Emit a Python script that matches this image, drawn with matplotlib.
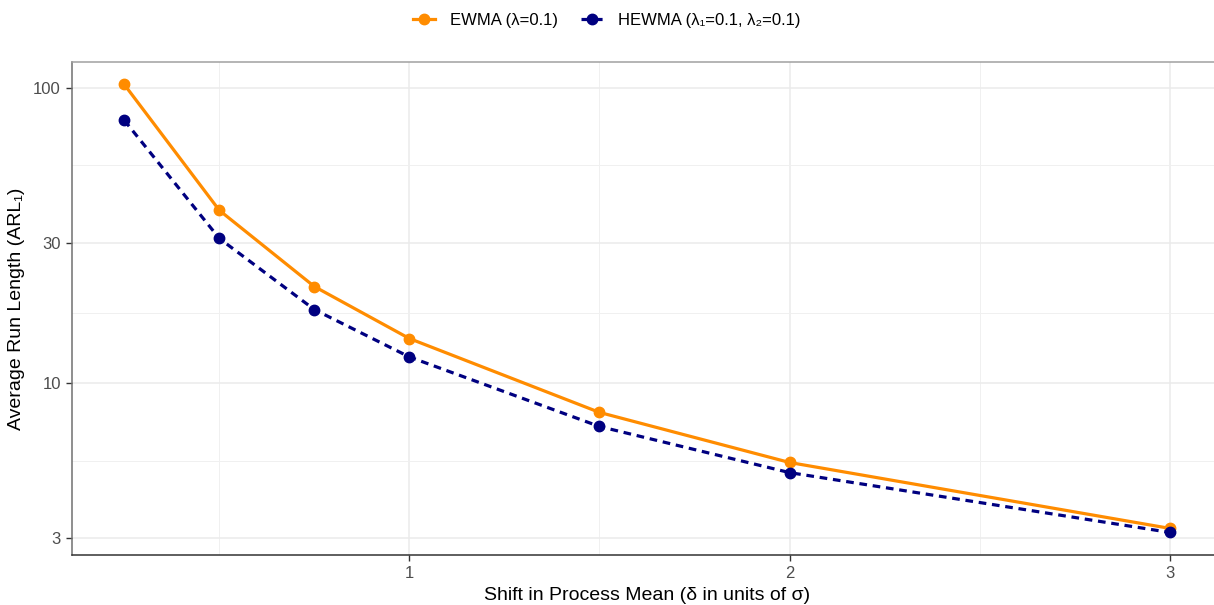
import matplotlib
matplotlib.use("Agg")
import matplotlib.pyplot as plt
from matplotlib.ticker import FixedLocator, NullFormatter

plt.rcParams['font.family'] = ['Liberation Sans', 'DejaVu Sans']

# ---- data ----
shift = [0.25, 0.5, 0.75, 1.0, 1.5, 2.0, 3.0]
arl_ewma = [103, 38.6, 21.3, 14.2, 7.98, 5.40, 3.23]
arl_hewma = [77.9, 31.0, 17.8, 12.3, 7.15, 4.99, 3.13]

y_ticks = [3, 10, 30, 100]
y_minor = [5.477, 17.32, 54.77]
x_ticks = [1, 2, 3]
x_minor = [0.5, 1.5, 2.5]

W, H = 1214, 605
fig = plt.figure(figsize=(W / 100, H / 100), dpi=100)
fig.patch.set_facecolor("white")
ax = fig.add_axes([72 / W, 50 / H, (1222 - 72) / W, 493 / H])

ax.plot(shift, arl_ewma, color="#FF8C00", lw=2.3, marker="o", ms=7.5,
        label="EWMA (λ=0.1)", zorder=4)
ax.plot(shift, arl_hewma, color="#000080", lw=2.3, ls=(0, (2.4, 1.8)), marker="o", ms=7.5,
        label="HEWMA (λ₁=0.1, λ₂=0.1)", zorder=5)

ax.set_yscale("log")
ax.set_xlim(0.1125, 3.1375)
ax.set_ylim(10 ** 0.419, 10 ** 2.089)

ax.yaxis.set_major_locator(FixedLocator(y_ticks))
ax.yaxis.set_minor_locator(FixedLocator(y_minor))
ax.set_yticklabels([str(v) for v in y_ticks])
ax.yaxis.set_minor_formatter(NullFormatter())
ax.xaxis.set_major_locator(FixedLocator(x_ticks))
ax.xaxis.set_minor_locator(FixedLocator(x_minor))
ax.set_xticklabels([str(v) for v in x_ticks])

ax.grid(which="major", color="#EBEBEB", lw=1.1, zorder=0)
ax.grid(which="minor", color="#F0F0F0", lw=0.7, zorder=0)
ax.set_axisbelow(True)

ax.tick_params(which="major", length=4, width=1, color="#333333",
               labelsize=12, labelcolor="#4D4D4D", pad=4)
ax.tick_params(which="minor", length=0)

ax.spines["top"].set_color("#A0A0A0")
ax.spines["right"].set_color("#A0A0A0")
ax.spines["left"].set_color("#707070")
ax.spines["bottom"].set_color("#333333")
for s in ax.spines.values():
    s.set_linewidth(1.1)

ax.set_xlabel("Shift in Process Mean (δ in units of σ)", fontsize=14, labelpad=4)
ax.set_ylabel("Average Run Length (ARL₁)", fontsize=14, labelpad=6)

fig.legend(loc="center", bbox_to_anchor=(0.5, 1 - 20 / H), ncol=2, frameon=False,
           fontsize=12, handlelength=1.3, columnspacing=1.4, handletextpad=0.9)

fig.savefig("out.png", dpi=100, facecolor="white")
